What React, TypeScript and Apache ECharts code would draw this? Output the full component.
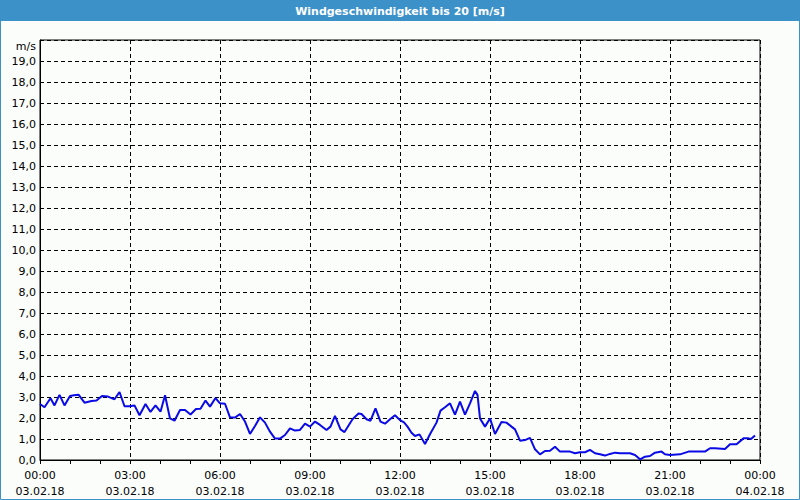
import React, { useEffect, useRef } from "react";
import * as echarts from "echarts";

const titleText = "Windgeschwindigkeit bis 20 [m/s]";
const unitLabel = "m/s";
const dayLabels = ["03.02.18", "04.02.18"];

// minutes since 03.02.18 00:00
const times = [
  0, 9, 21, 29, 39, 49, 60, 68, 77, 89, 103, 113, 124, 136, 149, 159, 169, 179, 189, 199,
  211, 221, 231, 241, 250, 260, 269, 280, 290, 301, 312, 321, 331, 340, 351, 360, 370, 380, 390, 400,
  410, 420, 430, 440, 450, 460, 470, 480, 490, 500, 510, 520, 530, 540, 550, 560, 573, 581, 590, 601,
  609, 625, 637, 643, 653, 661, 671, 681, 690, 700, 710, 720, 728, 735, 743, 750, 759, 770, 781, 793,
  801, 810, 820, 830, 840, 850, 860, 870, 875, 880, 890, 900, 910, 923, 933, 943, 950, 960, 970, 980,
  990, 1000, 1010, 1020, 1030, 1040, 1060, 1070, 1080, 1090, 1100, 1110, 1120, 1130, 1140, 1150, 1160, 1180, 1190, 1200,
  1210, 1220, 1230, 1243, 1250, 1260, 1280, 1297, 1330, 1340, 1350, 1370, 1380, 1393, 1407, 1417, 1422, 1430,
];

// wind speed in m/s
const speeds = [
  2.67, 2.51, 2.94, 2.6, 3.1, 2.6, 3.05, 3.08, 3.11, 2.73, 2.81, 2.83, 3.05, 3.02, 2.89, 3.24, 2.56, 2.56, 2.6, 2.13,
  2.67, 2.29, 2.6, 2.3, 3.08, 1.98, 1.87, 2.38, 2.38, 2.17, 2.43, 2.44, 2.83, 2.54, 2.95, 2.7, 2.68, 2.03, 2.02, 2.19,
  1.83, 1.24, 1.62, 2.03, 1.78, 1.35, 1.02, 1.02, 1.19, 1.51, 1.4, 1.43, 1.73, 1.59, 1.83, 1.67, 1.43, 1.59, 2.1, 1.46,
  1.33, 1.94, 2.21, 2.19, 1.94, 1.87, 2.46, 1.83, 1.73, 1.94, 2.13, 1.9, 1.79, 1.59, 1.3, 1.14, 1.22, 0.76, 1.27, 1.78,
  2.35, 2.51, 2.7, 2.16, 2.78, 2.16, 2.7, 3.29, 3.1, 1.98, 1.59, 1.98, 1.24, 1.81, 1.78, 1.59, 1.46, 0.92, 0.95, 1.05,
  0.51, 0.27, 0.43, 0.44, 0.63, 0.4, 0.4, 0.32, 0.37, 0.37, 0.48, 0.32, 0.27, 0.21, 0.29, 0.35, 0.32, 0.32, 0.24, 0.03,
  0.16, 0.19, 0.35, 0.4, 0.27, 0.24, 0.27, 0.4, 0.4, 0.56, 0.56, 0.52, 0.75, 0.75, 1.03, 1.03, 1.0, 1.17,
];

const FONT = "DejaVu Sans";

export default function App() {
  const ref = useRef<HTMLDivElement>(null);
  useEffect(() => {
    if (!ref.current) return;
    const chart = echarts.init(ref.current, null, { renderer: "svg" });
    const data = times.map((t, i) => [t, speeds[i]]);
    chart.setOption({
      animation: false,
      backgroundColor: "#fbfdfb",
      graphic: [
        {
          type: "rect",
          shape: { x: 0, y: 0, width: 800, height: 21 },
          style: { fill: "#3c91c8" },
          z: 0,
        },
        {
          type: "rect",
          shape: { x: 0.5, y: 0.5, width: 799, height: 499 },
          style: { fill: "none", stroke: "#3c91c8", lineWidth: 1 },
          z: 0,
        },
        {
          type: "text",
          x: 400,
          y: 11,
          style: {
            text: titleText,
            fill: "#ffffff",
            font: `bold 11px "${FONT}"`,
            align: "center",
            verticalAlign: "middle",
          },
          z: 1,
        },
      ],
      grid: {
        left: 40,
        right: 40,
        top: 40,
        bottom: 40,
        show: true,
        borderColor: "#000",
        borderWidth: 1,
        backgroundColor: "transparent",
      },
      xAxis: {
        type: "value",
        min: 0,
        max: 1440,
        interval: 180,
        axisLine: { show: true, lineStyle: { color: "#000", width: 1 } },
        axisTick: { show: true, length: 4, lineStyle: { color: "#000" } },
        minorTick: { show: true, splitNumber: 3, length: 4, lineStyle: { color: "#000" } },
        splitLine: { show: true, lineStyle: { color: "#000", type: [4, 3], width: 1 } },
        axisLabel: {
          color: "#000",
          fontFamily: FONT,
          fontSize: 11,
          lineHeight: 16,
          margin: 7,
          formatter: (v: number) => {
            const h = Math.floor(v / 60) % 24;
            const m = v % 60;
            const day = v >= 1440 ? dayLabels[1] : dayLabels[0];
            return `${String(h).padStart(2, "0")}:${String(m).padStart(2, "0")}\n${day}`;
          },
        },
      },
      yAxis: {
        type: "value",
        min: 0,
        max: 20,
        interval: 1,
        axisLine: { show: true, lineStyle: { color: "#000", width: 1 } },
        axisTick: { show: false },
        splitLine: { show: true, lineStyle: { color: "#000", type: [4, 3], width: 1 } },
        axisLabel: {
          color: "#000",
          fontFamily: FONT,
          fontSize: 11,
          margin: 4,
          formatter: (v: number) =>
            v === 20 ? `{u|${unitLabel}}` : v.toFixed(1).replace(".", ","),
          rich: {
            u: { color: "#000", fontFamily: FONT, fontSize: 11, padding: [12, 0, 0, 0] },
          },
        },
      },
      series: [
        {
          type: "line",
          data,
          showSymbol: false,
          symbol: "none",
          lineStyle: { color: "#0a0ae6", width: 2 },
          silent: true,
        },
      ],
    });
    return () => chart.dispose();
  }, []);
  return (
    <div
      ref={ref}
      style={{ position: "fixed", left: 0, top: 0, width: 800, height: 500 }}
    />
  );
}
